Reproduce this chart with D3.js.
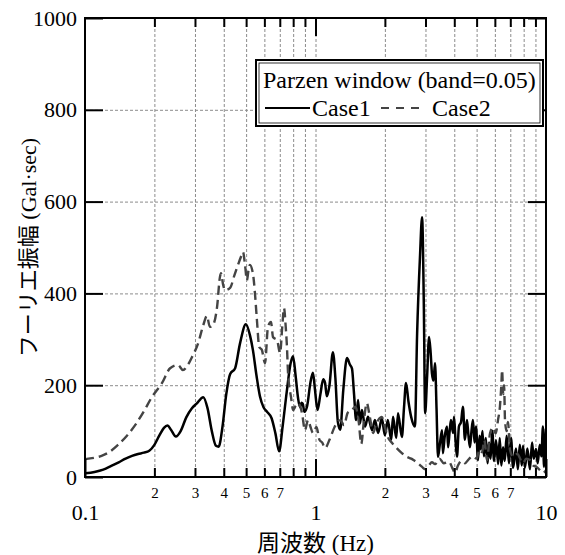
<!DOCTYPE html>
<html>
<head>
<meta charset="utf-8">
<script src="https://cdn.jsdelivr.net/npm/d3@7"></script>
<style>
  body { margin: 0; background: #fff; }
  svg text { font-family: "Liberation Serif", "Times New Roman", "Noto Sans CJK JP", serif; fill: #000; }
</style>
</head>
<body>
<div id="chart"></div>
<script>
// Data
var freq1 = [0.1,0.11,0.12,0.13,0.14,0.15,0.16,0.17,0.18,0.19,0.2,0.21,0.22,0.228,0.236,0.248,0.26,0.275,0.291,0.305,
  0.326,0.34,0.355,0.37,0.38,0.395,0.41,0.426,0.448,0.47,0.499,0.52,0.535,0.555,0.574,0.595,0.616,0.645,0.67,0.695,
  0.72,0.75,0.78,0.799,0.82,0.84,0.857,0.87,0.88,0.895,0.92,0.95,0.975,0.995,1.02,1.05,1.08,1.10,1.12,1.15,
  1.19,1.22,1.25,1.28,1.32,1.37,1.41,1.44,1.47,1.50,1.53,1.56,1.59,1.64,1.69,1.76,1.81,1.87,1.94,2.00,
  2.06,2.13,2.17,2.24,2.28,2.37,2.42,2.47,2.53,2.60,2.70,2.76,2.84,2.90,2.95,2.99,3.05,3.11,3.16,3.20,
  3.25,3.30,3.35,3.40,3.47,3.54,3.57,3.64,3.72,3.76,3.82,3.87,3.95,3.99,4.05,4.11,4.19,4.28,4.36,4.45,
  4.54,4.61,4.68,4.75,4.82,4.90,4.97,5.07,5.15,5.22,5.30,5.38,5.48,5.58,5.66,5.75,5.85,5.95,6.07,6.20,
  6.30,6.40,6.51,6.62,6.75,6.91,7.05,7.20,7.41,7.55,7.70,7.85,7.95,8.10,8.30,8.52,8.70,8.85,9.05,9.20,
  9.40,9.55,9.70,9.80,9.90,10];
var amp1 = [8,11,16,24,32,40,46,50,53,57,70,90,107,112,103,88,100,130,150,160,
  174,150,100,68,66,110,180,224,237,290,333,308,277,220,176,152,142,128,95,56,
  110,185,248,263,220,172,152,162,160,142,155,205,227,190,146,180,213,205,176,200,
  272,215,120,103,190,259,245,236,180,124,168,117,146,110,131,102,124,96,128,91,
  124,81,131,85,139,87,150,205,165,131,110,313,480,566,380,139,220,305,270,226,
  210,248,150,44,75,102,52,90,110,65,100,124,96,131,80,44,110,120,153,81,
  124,90,65,100,124,75,110,37,90,60,100,45,85,30,75,40,100,35,80,28,
  85,25,65,35,90,30,85,20,62,17,70,25,68,20,62,17,75,40,61,30,
  70,45,110,22,60,105];

var freq2 = [0.1,0.11,0.118,0.128,0.139,0.152,0.165,0.18,0.195,0.216,0.234,0.253,0.266,0.28,0.291,0.309,0.326,0.338,0.348,0.359,
  0.374,0.385,0.389,0.397,0.405,0.426,0.445,0.461,0.475,0.485,0.495,0.504,0.512,0.519,0.535,0.546,0.557,0.570,0.585,0.604,
  0.622,0.641,0.654,0.681,0.702,0.718,0.730,0.742,0.752,0.760,0.783,0.800,0.820,0.840,0.874,0.900,0.928,0.950,0.975,1.01,
  1.04,1.07,1.10,1.15,1.21,1.28,1.33,1.38,1.44,1.49,1.54,1.58,1.62,1.67,1.72,1.78,1.83,1.87,1.94,2.00,
  2.06,2.15,2.25,2.37,2.49,2.60,2.66,2.78,2.90,2.99,3.10,3.20,3.30,3.45,3.60,3.80,3.92,4.03,4.15,4.30,
  4.45,4.63,4.80,5.00,5.15,5.28,5.40,5.55,5.72,5.89,6.05,6.19,6.31,6.40,6.45,6.52,6.58,6.64,6.75,6.84,
  6.98,7.20,7.50,7.95,8.20,8.52,8.80,9.10,9.40,9.70,10];
var amp2 = [39,42,46,55,70,90,113,143,174,205,237,244,233,245,261,290,331,351,327,331,
  370,436,444,420,407,412,440,462,480,490,460,429,450,462,444,401,342,283,277,248,
  327,338,305,298,270,330,368,330,283,227,174,146,155,161,139,102,124,110,96,109,
  81,75,63,81,109,124,113,140,146,153,120,72,120,161,131,96,115,124,131,109,
  87,74,63,52,44,40,37,30,22,17,25,32,28,40,30,33,20,9,25,35,
  30,39,45,40,60,54,80,37,96,108,95,124,153,200,233,180,200,124,100,120,
  59,44,50,30,40,37,25,22,15,9,15];

var seriesNames = ["Case1", "Case2"];
var legendTitle = "Parzen window (band=0.05)";
var yTicks = [0, 200, 400, 600, 800, 1000];
var yGrid = [200, 400, 600, 800];
var xMajor = [0.1, 1, 10];
var xMinor = [0.2,0.3,0.4,0.5,0.6,0.7,0.8,0.9,2,3,4,5,6,7,8,9];
var xTitle = "周波数 (Hz)";
var yTitle = "フーリエ振幅 (Gal·sec)";

var svgWidth = 565;
var svgHeight = 555;
var margin = { top: 18, right: 19, bottom: 78, left: 85 };
var width = svgWidth - margin.left - margin.right;
var height = svgHeight - margin.top - margin.bottom;

var svg = d3.select("#chart")
  .append("svg")
  .attr("width", svgWidth)
  .attr("height", svgHeight);

svg.append("rect").attr("width", svgWidth).attr("height", svgHeight).attr("fill", "#fff");

var chartGroup = svg.append("g")
  .attr("transform", `translate(${margin.left}, ${margin.top})`);

var x = d3.scaleLog().domain([0.1, 10]).range([0, width]);
var y = d3.scaleLinear().domain([0, 1000]).range([height, 0]);

// grid
var gx = chartGroup.append("g")
  .attr("transform", `translate(0, ${height})`)
  .call(d3.axisBottom(x).tickValues(xMinor.concat([1])).tickSize(-height).tickFormat(""));
var gy = chartGroup.append("g")
  .call(d3.axisLeft(y).tickValues(yGrid).tickSize(-width).tickFormat(""));
[gx, gy].forEach(function (g) {
  g.select(".domain").remove();
  g.selectAll("line").attr("stroke", "#8c8c8c").attr("stroke-width", 1).attr("stroke-dasharray", "3,2");
});

// lines
chartGroup.append("clipPath").attr("id", "clip")
  .append("rect").attr("width", width).attr("height", height);

var line = d3.line()
  .x(d => x(d[0]))
  .y(d => y(d[1]))
  .curve(d3.curveMonotoneX);

var data1 = freq1.map((f, i) => [f, amp1[i]]);
var data2 = freq2.map((f, i) => [f, amp2[i]]);

chartGroup.append("path")
  .datum(data1)
  .attr("clip-path", "url(#clip)")
  .attr("d", line)
  .attr("fill", "none")
  .attr("stroke", "#000")
  .attr("stroke-width", 2.5)
  .attr("stroke-linejoin", "round");

chartGroup.append("path")
  .datum(data2)
  .attr("clip-path", "url(#clip)")
  .attr("d", line)
  .attr("fill", "none")
  .attr("stroke", "#444")
  .attr("stroke-width", 2.4)
  .attr("stroke-dasharray", "9,5");

// axes (ticks inward)
function minorLabel(d) {
  var m = Math.round(d / Math.pow(10, Math.floor(Math.log10(d) + 1e-9)));
  return m <= 7 ? m : "";
}

function styleAxis(g, size) {
  g.select(".domain").remove();
  g.selectAll("line").attr("stroke", "#000").attr("stroke-width", 2);
  g.selectAll("text").attr("font-size", size).attr("font-family", null);
}

chartGroup.append("g")
  .attr("transform", `translate(0, ${height})`)
  .call(d3.axisBottom(x).tickValues(xMinor).tickSize(-9).tickPadding(10).tickFormat(minorLabel))
  .call(g => styleAxis(g, 15));

chartGroup.append("g")
  .attr("transform", `translate(0, ${height})`)
  .call(d3.axisBottom(x).tickValues(xMajor).tickSize(-18).tickPadding(27).tickFormat(d3.format("")))
  .call(g => styleAxis(g, 22));

chartGroup.append("g")
  .call(d3.axisTop(x).tickValues(xMinor).tickSize(-9).tickFormat(""))
  .call(g => styleAxis(g, 0));

chartGroup.append("g")
  .call(d3.axisTop(x).tickValues([1]).tickSize(-18).tickFormat(""))
  .call(g => styleAxis(g, 0));

chartGroup.append("g")
  .call(d3.axisLeft(y).tickValues(yTicks).tickSize(-18).tickPadding(8).tickFormat(d3.format("d")))
  .call(g => styleAxis(g, 22));

chartGroup.append("g")
  .attr("transform", `translate(${width}, 0)`)
  .call(d3.axisRight(y).tickValues(yTicks).tickSize(-18).tickFormat(""))
  .call(g => styleAxis(g, 0));

// frame
chartGroup.append("rect")
  .attr("width", width)
  .attr("height", height)
  .attr("fill", "none")
  .attr("stroke", "#000")
  .attr("stroke-width", 2);

// axis titles
svg.append("text")
  .attr("x", margin.left + width / 2)
  .attr("y", 543)
  .attr("dy", "0.35em")
  .attr("text-anchor", "middle")
  .attr("font-size", 23)
  .text(xTitle);

svg.append("text")
  .attr("transform", `translate(28, ${margin.top + height / 2}) rotate(-90)`)
  .attr("dy", "0.35em")
  .attr("text-anchor", "middle")
  .attr("font-size", 22)
  .text(yTitle);

// legend
var legend = svg.append("g").attr("transform", "translate(256, 60)");
legend.append("rect")
  .attr("width", 287).attr("height", 66)
  .attr("fill", "#fff").attr("stroke", "#000").attr("stroke-width", 2);
legend.append("rect")
  .attr("x", 3).attr("y", 3).attr("width", 281).attr("height", 60)
  .attr("fill", "none").attr("stroke", "#000").attr("stroke-width", 0.8);
legend.append("text")
  .attr("x", 7).attr("y", 20).attr("dy", "0.35em")
  .attr("font-size", 24)
  .text(legendTitle);

var legendItems = [
  { name: seriesNames[0], x0: 9, x1: 54, color: "#000", dash: null },
  { name: seriesNames[1], x0: 125, x1: 167, color: "#444", dash: "8,7" }
];
legendItems.forEach(function (d) {
  legend.append("line")
    .attr("x1", d.x0).attr("x2", d.x1).attr("y1", 48).attr("y2", 48)
    .attr("stroke", d.color).attr("stroke-width", 2.2)
    .attr("stroke-dasharray", d.dash);
  legend.append("text")
    .attr("x", d.x1 + (d.dash ? 9 : 2)).attr("y", 48).attr("dy", "0.35em")
    .attr("font-size", 24)
    .text(d.name);
});
</script>
</body>
</html>
